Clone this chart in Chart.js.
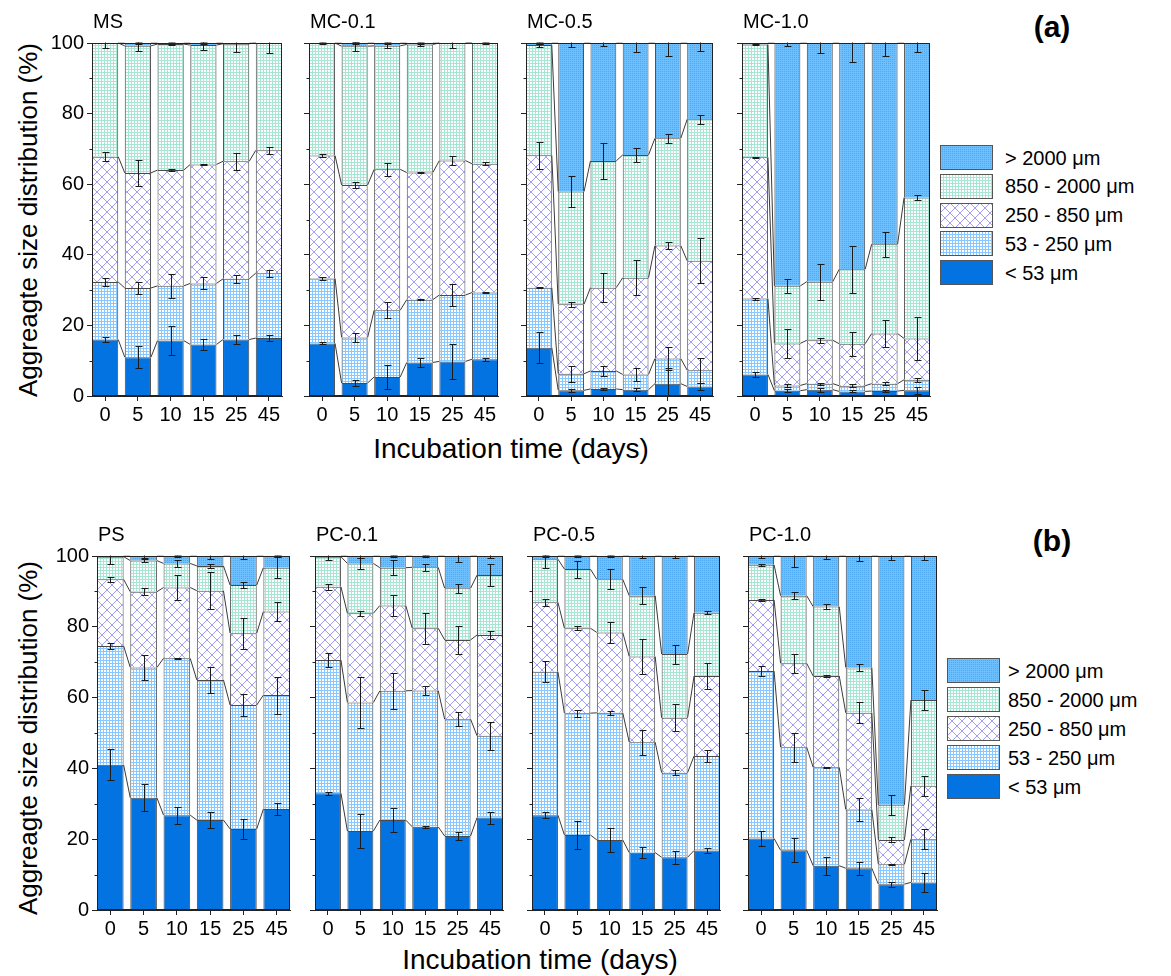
<!DOCTYPE html>
<html>
<head>
<meta charset="utf-8">
<script src="https://cdn.jsdelivr.net/npm/chart.js@4.4.1/dist/chart.umd.min.js"></script>
<style>
  body { margin: 0; width: 1171px; height: 976px; background: #fff; position: relative; overflow: hidden;
         font-family: 'Liberation Sans', Arial, sans-serif; color: #000; }
  .txt { position: absolute; white-space: nowrap; transform: translate(0, -50%); }
  .ctr { position: absolute; white-space: nowrap; transform: translate(-50%, -50%); }
  .ytitle { position: absolute; white-space: nowrap; font-size: 26px; transform: translate(-50%, -50%) rotate(-90deg); }
  .xtitle { font-size: 28px; }
  .tag { font-size: 30px; font-weight: bold; }
  .ptitle { font-size: 20px; }
  .leg { font-size: 20px; }
</style>
</head>
<body>

<div class="tag ctr" style="left:1052px; top:27px;">(a)</div>
<div class="tag ctr" style="left:1052px; top:541px;">(b)</div>
<div class="ytitle" style="left:28px; top:220px;">Aggreagte size distribution (%)</div>
<div class="ytitle" style="left:28px; top:738px;">Aggreagte size distribution (%)</div>
<div class="xtitle ctr" style="left:511px; top:449px;">Incubation time (days)</div>
<div class="xtitle ctr" style="left:540px; top:960px;">Incubation time (days)</div>

<script>
const days = ['0', '5', '10', '15', '25', '45'];
const sizeClasses = ['< 53 μm', '53 - 250 μm', '250 - 850 μm', '850 - 2000 μm', '> 2000 μm'];

// share of each size class (%), rows bottom (<53) to top (>2000), columns = days
const MS_pct = [
  [16.0, 11.0, 15.7, 14.6, 16.0, 16.4],
  [16.3, 19.6, 15.5, 17.3, 17.2, 18.4],
  [35.5, 32.6, 32.8, 33.7, 33.3, 34.8],
  [32.2, 36.0, 35.7, 33.8, 33.3, 30.4],
  [0.0, 0.8, 0.3, 0.6, 0.2, 0.0],
];
const MS_err = [
  [0.8, 3.2, 4.2, 1.6, 1.3, 0.9],
  [1.1, 1.7, 3.5, 1.7, 1.2, 1.0],
  [1.2, 3.7, 0.4, 0.2, 2.4, 1.0],
  [1.5, 1.5, 0.4, 1.5, 2.4, 2.7],
  [0.0, 0.4, 0.2, 0.3, 0.1, 0.0],
];

const MC01_pct = [
  [14.9, 3.7, 5.4, 9.5, 9.8, 10.4],
  [18.4, 12.9, 18.9, 17.8, 18.8, 18.9],
  [34.8, 43.2, 39.9, 36.0, 38.1, 36.5],
  [31.9, 39.3, 35.0, 36.3, 33.3, 34.2],
  [0.0, 0.9, 0.8, 0.4, 0.0, 0.0],
];
const MC01_err = [
  [0.3, 0.8, 3.3, 1.3, 5.0, 0.4],
  [0.3, 1.2, 2.3, 0.2, 3.1, 0.2],
  [0.5, 0.8, 1.8, 0.2, 1.3, 0.4],
  [0.3, 1.3, 0.7, 0.5, 1.5, 0.2],
  [0.0, 0.3, 0.3, 0.2, 0.0, 0.0],
];

const MC05_pct = [
  [13.7, 1.6, 2.0, 1.8, 3.5, 2.7],
  [17.0, 4.7, 5.1, 4.3, 7.1, 4.6],
  [37.5, 19.7, 23.6, 27.4, 32.0, 31.0],
  [31.2, 31.9, 35.9, 34.8, 30.4, 40.1],
  [0.6, 42.1, 33.4, 31.7, 27.0, 21.6],
];
const MC05_err = [
  [4.4, 0.5, 0.4, 0.5, 4.3, 0.9],
  [0.2, 2.2, 1.4, 1.8, 3.3, 3.5],
  [3.8, 0.7, 4.1, 4.9, 0.9, 6.4],
  [0.4, 4.4, 5.2, 1.9, 1.3, 1.3],
  [0.2, 1.1, 0.8, 2.6, 3.6, 2.4],
];

const MC10_pct = [
  [6.1, 1.5, 1.8, 1.3, 1.4, 1.6],
  [21.5, 1.5, 1.7, 1.6, 2.1, 3.0],
  [40.0, 11.9, 12.3, 11.9, 14.2, 11.7],
  [32.0, 16.3, 16.6, 21.1, 25.3, 39.9],
  [0.4, 68.8, 67.6, 64.1, 57.0, 43.8],
];
const MC10_err = [
  [0.8, 0.4, 0.6, 0.3, 0.4, 1.0],
  [0.3, 0.4, 0.3, 0.4, 0.4, 0.5],
  [0.2, 4.0, 0.7, 3.4, 3.8, 6.1],
  [0.2, 2.0, 5.1, 6.7, 3.6, 0.7],
  [0.1, 0.8, 2.8, 5.3, 3.7, 2.5],
];

const PS_pct = [
  [41.0, 31.7, 26.8, 25.4, 22.9, 28.5],
  [33.6, 36.8, 44.3, 39.6, 35.0, 32.2],
  [18.8, 21.4, 20.0, 25.2, 20.3, 23.6],
  [6.4, 8.8, 6.8, 7.0, 13.6, 12.4],
  [0.2, 1.3, 2.1, 2.8, 8.2, 3.3],
];
const PS_err = [
  [4.4, 3.8, 2.4, 2.2, 2.8, 1.7],
  [0.9, 3.5, 0.2, 3.7, 3.2, 5.2],
  [0.7, 1.0, 3.4, 5.2, 4.4, 2.8],
  [2.0, 0.5, 0.9, 0.5, 0.8, 2.9],
  [0.1, 0.5, 0.3, 0.8, 0.8, 0.3],
];

const PC01_pct = [
  [33.0, 22.3, 25.4, 23.5, 20.9, 26.1],
  [37.6, 36.3, 36.5, 38.5, 33.0, 23.1],
  [20.7, 25.2, 24.1, 17.6, 22.4, 28.5],
  [8.5, 14.1, 10.7, 17.2, 14.6, 16.9],
  [0.2, 2.1, 3.3, 3.2, 9.1, 5.4],
];
const PC01_err = [
  [0.4, 4.9, 3.4, 0.2, 1.1, 1.7],
  [1.9, 7.3, 5.0, 1.2, 1.9, 3.9],
  [0.9, 0.8, 2.9, 4.4, 3.9, 1.2],
  [1.0, 1.5, 2.1, 1.0, 1.3, 3.1],
  [0.1, 0.5, 0.4, 0.4, 1.8, 0.5],
];

const PC05_pct = [
  [26.8, 21.2, 19.8, 16.2, 14.9, 16.8],
  [40.5, 34.4, 35.9, 31.2, 23.9, 26.7],
  [19.6, 24.0, 22.7, 24.2, 15.5, 22.6],
  [12.2, 16.7, 15.0, 17.2, 18.0, 17.9],
  [0.9, 3.7, 6.6, 11.2, 27.7, 16.0],
];
const PC05_err = [
  [0.9, 3.9, 3.3, 1.6, 1.9, 0.8],
  [2.9, 1.0, 0.6, 3.5, 0.7, 1.8],
  [1.0, 0.5, 3.0, 5.0, 3.8, 3.8],
  [2.5, 2.4, 2.8, 2.4, 2.7, 0.4],
  [0.2, 0.4, 0.3, 0.6, 0.5, 0.1],
];

const PC10_pct = [
  [20.2, 16.9, 12.5, 11.8, 7.3, 7.8],
  [47.3, 29.1, 27.8, 16.6, 5.6, 12.2],
  [20.1, 23.7, 25.8, 27.3, 6.9, 15.1],
  [9.9, 19.1, 19.6, 12.8, 9.9, 24.2],
  [2.5, 11.2, 14.3, 31.5, 70.3, 40.7],
];
const PC10_err = [
  [2.0, 3.4, 2.6, 1.9, 0.7, 2.6],
  [1.3, 4.1, 0.2, 3.2, 0.2, 2.8],
  [0.2, 2.7, 0.2, 3.0, 0.7, 2.8],
  [0.2, 1.0, 0.8, 1.0, 2.8, 2.8],
  [0.6, 3.0, 0.8, 1.4, 1.2, 1.0],
];

// plot boxes [left, top, right, bottom] in page pixels
const panels = [
  { title: 'MS',     pct: MS_pct,   err: MS_err,   box: [92, 43, 282, 396], yLabels: true },
  { title: 'MC-0.1', pct: MC01_pct, err: MC01_err, box: [309, 43, 498, 396] },
  { title: 'MC-0.5', pct: MC05_pct, err: MC05_err, box: [526, 43, 713, 396] },
  { title: 'MC-1.0', pct: MC10_pct, err: MC10_err, box: [742, 43, 930, 396] },
  { title: 'PS',     pct: PS_pct,   err: PS_err,   box: [97, 556, 290, 910], yLabels: true },
  { title: 'PC-0.1', pct: PC01_pct, err: PC01_err, box: [315, 556, 503, 910] },
  { title: 'PC-0.5', pct: PC05_pct, err: PC05_err, box: [532, 556, 720, 910] },
  { title: 'PC-1.0', pct: PC10_pct, err: PC10_err, box: [748, 556, 937, 910] },
];

const PAD_LEFT = 60, PAD_TOP = 16, PAD_RIGHT = 10, X_AXIS_H = 45;
const EDGE = '#4a4a4a';

function makePattern(size, draw) {
  const c = document.createElement('canvas');
  c.width = c.height = size;
  const g = c.getContext('2d');
  draw(g, size);
  return g.createPattern(c, 'repeat');
}

function gridFill(line) {
  return makePattern(3, (g, s) => {
    g.fillStyle = '#fff'; g.fillRect(0, 0, s, s);
    g.fillStyle = line; g.fillRect(0, 0, s, 1); g.fillRect(0, 0, 1, s);
  });
}

const fills = [
  '#0473e2',
  gridFill('#86c8ff'),
  makePattern(10, (g, s) => {
    g.fillStyle = '#fff'; g.fillRect(0, 0, s, s);
    g.strokeStyle = '#a0a0fa'; g.lineWidth = 1;
    g.beginPath();
    g.moveTo(-1, -1); g.lineTo(s + 1, s + 1);
    g.moveTo(-1, s + 1); g.lineTo(s + 1, -1);
    g.stroke();
  }),
  gridFill('#a8e6d4'),
  makePattern(2, (g, s) => {
    g.fillStyle = '#6cc0ff'; g.fillRect(0, 0, s, s);
    g.fillStyle = '#4ea8f0'; g.fillRect(0, 0, 1, 1);
  }),
];

// connecting lines between stacked tops, error bars, frame and minor ticks
const stackDeco = {
  id: 'stackDeco',
  afterDatasetsDraw(chart) {
    const { ctx, chartArea: a, scales: { y } } = chart;
    const errs = chart.options.plugins.stackDeco.errors;
    ctx.save();
    ctx.beginPath();
    ctx.rect(a.left, a.top - 0.5, a.right - a.left, a.bottom - a.top + 1);
    ctx.clip();
    ctx.lineWidth = 1;
    ctx.strokeStyle = '#3a3a3a';
    chart.data.datasets.forEach((ds, di) => {
      const bars = chart.getDatasetMeta(di).data;
      ctx.beginPath();
      for (let j = 0; j < bars.length - 1; j++) {
        const b0 = bars[j], b1 = bars[j + 1];
        ctx.moveTo(b0.x + b0.width / 2, b0.y);
        ctx.lineTo(b1.x - b1.width / 2, b1.y);
      }
      ctx.stroke();
    });
    ctx.strokeStyle = '#1c1c1c';
    const zero = y.getPixelForValue(0);
    chart.data.datasets.forEach((ds, di) => {
      const bars = chart.getDatasetMeta(di).data;
      bars.forEach((b, j) => {
        const e = errs[di][j];
        if (!e) return;
        const d = zero - y.getPixelForValue(e);
        const x = Math.round(b.x) + 0.5;
        const t = Math.round(b.y - d) + 0.5, btm = Math.round(b.y + d) + 0.5;
        ctx.beginPath();
        ctx.moveTo(x, t); ctx.lineTo(x, btm);
        ctx.moveTo(x - 3, t); ctx.lineTo(x + 4, t);
        ctx.moveTo(x - 3, btm); ctx.lineTo(x + 4, btm);
        ctx.stroke();
      });
    });
    ctx.restore();

    ctx.save();
    ctx.strokeStyle = '#222';
    ctx.lineWidth = 1;
    const L = Math.round(a.left) + 0.5, T = Math.round(a.top) + 0.5;
    ctx.strokeRect(L, T, Math.round(a.right - a.left) - 1, Math.round(a.bottom - a.top) - 1);
    ctx.beginPath();
    [10, 30, 50, 70, 90].forEach(v => {
      const py = Math.round(y.getPixelForValue(v)) + 0.5;
      ctx.moveTo(L - 3, py); ctx.lineTo(L, py);
    });
    ctx.stroke();
    ctx.restore();
  },
};

Chart.defaults.font.family = "'Liberation Sans', Arial, sans-serif";
Chart.defaults.color = '#000';

function buildPanel(p) {
  const [l, t, r, b] = p.box;
  const cv = document.createElement('canvas');
  cv.width = (r - l) + PAD_LEFT + PAD_RIGHT;
  cv.height = (b - t) + PAD_TOP + X_AXIS_H;
  cv.style.cssText = `position:absolute;left:${l - PAD_LEFT}px;top:${t - PAD_TOP}px;` +
                     `width:${cv.width}px;height:${cv.height}px;`;
  document.body.appendChild(cv);

  const title = document.createElement('div');
  title.className = 'txt ptitle';
  title.style.left = (l + 1) + 'px';
  title.style.top = (t - 22) + 'px';
  title.textContent = p.title;
  document.body.appendChild(title);

  new Chart(cv, {
    type: 'bar',
    data: {
      datasets: p.pct.map((vals, k) => ({
        label: sizeClasses[k],
        data: vals.map((v, i) => ({ x: i, y: v })),
        backgroundColor: fills[k],
        borderColor: EDGE,
        borderWidth: 1,
        borderSkipped: 'start',
        inflateAmount: 0,
        categoryPercentage: 0.8,
        barPercentage: 1.0,
      })),
    },
    options: {
      responsive: false,
      animation: false,
      layout: { padding: { top: PAD_TOP, right: PAD_RIGHT, left: 0, bottom: 0 } },
      plugins: { legend: { display: false }, tooltip: { enabled: false }, stackDeco: { errors: p.err } },
      scales: {
        x: {
          type: 'linear', stacked: true, min: -0.4, max: 5.4, offset: false,
          afterBuildTicks: s => { s.ticks = days.map((d, i) => ({ value: i })); },
          afterFit: s => { s.height = X_AXIS_H; },
          ticks: { callback: v => days[v], font: { size: 20 }, color: '#000', padding: 2, maxRotation: 0, autoSkip: false },
          grid: { offset: false, drawOnChartArea: false, drawTicks: true, tickLength: 5, color: '#222' },
          border: { color: '#222' },
        },
        y: {
          stacked: true, min: 0, max: 100,
          afterFit: s => { s.width = PAD_LEFT; },
          ticks: { stepSize: 20, display: !!p.yLabels, font: { size: 20 }, color: '#000', padding: 3 },
          grid: { drawOnChartArea: false, drawTicks: true, tickLength: 5, color: '#222' },
          border: { color: '#222' },
        },
      },
    },
    plugins: [stackDeco],
  });
}

function buildLegend(boxLeft, top, step, textLeft) {
  for (let n = 0; n < 5; n++) {
    const k = 4 - n;
    const sw = document.createElement('canvas');
    sw.width = 53; sw.height = 25;
    sw.style.cssText = `position:absolute;left:${boxLeft}px;top:${top + n * step}px;width:53px;height:25px;`;
    const g = sw.getContext('2d');
    g.fillStyle = fills[k];
    g.fillRect(0, 0, 53, 25);
    g.strokeStyle = '#555';
    g.lineWidth = 1;
    g.strokeRect(0.5, 0.5, 52, 24);
    document.body.appendChild(sw);

    const lab = document.createElement('div');
    lab.className = 'txt leg';
    lab.style.left = textLeft + 'px';
    lab.style.top = (top + n * step + 12.5) + 'px';
    lab.textContent = sizeClasses[k];
    document.body.appendChild(lab);
  }
}

panels.forEach(buildPanel);
buildLegend(940, 145, 28.8, 1005);
buildLegend(947, 658, 29, 1008);
</script>
</body>
</html>
